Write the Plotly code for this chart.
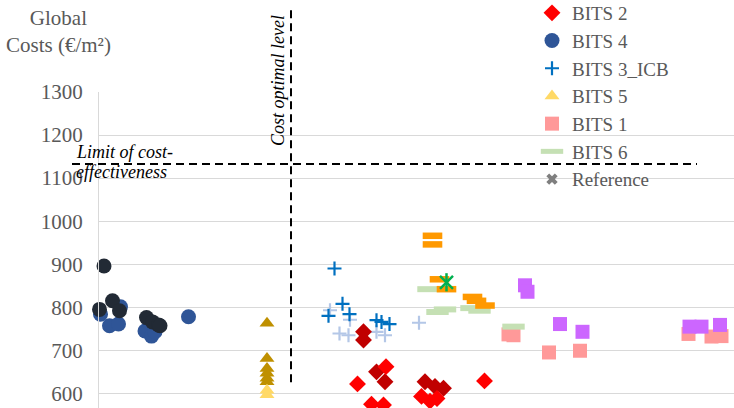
import plotly.graph_objects as go

# ---- data (x: arbitrary energy-performance scale, y: global costs €/m²) ----
bits4_x = [0.3, 4.3, 2.1, 3.9, 9.2, 10.5, 11.2, 17.9]
bits4_y = [784, 801, 757, 761, 745, 733, 743, 778]
bits4b_x = [1.0, 0.1, 2.7, 4.1, 9.5, 10.7, 11.9, 12.2]
bits4b_y = [896, 795, 815, 792, 776, 766, 759, 757]

bits5_x = [33.6, 33.6]
bits5_y = [607, 597]
bits5b_x = [33.6, 33.6, 33.6, 33.6, 33.6, 33.6]
bits5b_y = [763, 681, 658, 647, 635, 627]

bits3_x = [47.1, 48.7, 45.9, 50.1, 55.5, 56.5, 58.1]
bits3_y = [890, 808, 780, 784, 770, 766, 761]
bits3b_x = [46.2, 50.2, 48.1, 49.9, 55.5, 57.2, 64.0]
bits3b_y = [793, 771, 739, 735, 743, 735, 764]

bits2_x = [51.7, 57.4, 54.5, 56.9, 64.5, 66.2, 67.6, 77.1]
bits2_y = [622, 662, 575, 573, 593, 582, 588, 629]
bits2b_x = [52.9, 52.9, 55.5, 57.2, 65.2, 67.2, 68.9]
bits2b_y = [743, 724, 650, 627, 627, 616, 612]

bits1_x = [81.9, 82.9, 90.0, 96.2, 117.9, 122.5, 124.5]
bits1_y = [737, 735, 695, 699, 738, 732, 733]
bits1b_x = [85.2, 85.7, 92.2, 96.7, 118.1, 120.5, 124.2]
bits1b_y = [851, 836, 761, 743, 755, 755, 759]

bits6_x = [65.9, 69.2, 67.7, 74.5, 76.1, 82.9]
bits6_y = [842, 795, 789, 798, 792, 755]
bits6b_x = [66.7, 66.7, 68.1, 69.5, 74.7, 75.5, 77.2]
bits6b_y = [966, 946, 865, 842, 824, 815, 804]

ref_var_x = [69.5]
ref_var_y = [858]
ref_x = [None]
ref_y = [None]

limit_cost = 1133          # limit of cost-effectiveness
cost_opt_x = 38.4          # cost optimal level
cost_opt_y_low = 626

yticks = [600, 700, 800, 900, 1000, 1100, 1200, 1300]
y_range = [566, 1300]
x_range = [0, 127]

# ---- geometry (window pixels) ----
WIN_W, WIN_H = 734, 408
L, R, T, B = 99, 734, 92, 408
PW, PH = R - L, B - T
def px(x):
    return (x - L) / PW
def py(y):
    return (B - y) / PH
def vy(v):
    return (v - y_range[0]) / (y_range[1] - y_range[0])

SERIF = "Liberation Serif"
GREY = "#595959"

fig = go.Figure()

def add(x, y, name, symbol, color, size, show, rank, line_w=0, line_c=None):
    marker = dict(symbol=symbol, color=color, size=size,
                  line=dict(width=line_w, color=line_c if line_c else color))
    fig.add_trace(go.Scatter(x=x, y=y, mode="markers", name=name, marker=marker,
                             showlegend=show, legendrank=rank, cliponaxis=False,
                             hoverinfo="x+y"))

add(bits4_x, bits4_y, "BITS 4", "circle", "#2F5597", 15, True, 2)
add(bits4b_x, bits4b_y, "BITS 4 var", "circle", "#222A35", 15, False, 20)
add(bits5b_x, bits5b_y, "BITS 5 var", "triangle-up", "#BF9000", 13, False, 20)
add(bits5_x, bits5_y, "BITS 5", "triangle-up", "#FFD966", 13, True, 4)
add(bits3b_x, bits3b_y, "BITS 3_ICB var", "cross-thin-open", "#B4C7E7", 10, False, 20, 2.2, "#B4C7E7")
add(bits3_x, bits3_y, "BITS 3_ICB", "cross-thin-open", "#0070C0", 10, True, 3, 2.2, "#0070C0")
add(bits2b_x, bits2b_y, "BITS 2 var", "diamond", "#C00000", 13, False, 20)
add(bits2_x, bits2_y, "BITS 2", "diamond", "#FF0000", 13, True, 1)
add(bits1_x, bits1_y, "BITS 1", "square", "#FF9999", 14, True, 5)
add(bits1b_x, bits1b_y, "BITS 1 var", "square", "#CC66FF", 14, False, 20)
add(bits6_x, bits6_y, "BITS 6", "line-ew-open", "#C5E0B4", 16, True, 6, 6, "#C5E0B4")
add(bits6b_x, bits6b_y, "BITS 6 var", "line-ew-open", "#FF9900", 14, False, 20, 6.5, "#FF9900")
add(ref_var_x, ref_var_y, "Reference var", "x-thin-open", "#00B050", 13, False, 20, 2.5, "#00B050")
add(ref_var_x, ref_var_y, "Reference var2", "line-ns-open", "#00B050", 13, False, 20, 2.5, "#00B050")
add(ref_x, ref_y, "Reference", "x", "#7F7F7F", 10, True, 7)

# reference lines
fig.add_shape(type="line", xref="paper", yref="y", x0=px(72), x1=px(697),
              y0=limit_cost, y1=limit_cost,
              line=dict(color="black", width=2, dash="8px,5px"))
fig.add_shape(type="line", xref="x", yref="paper", x0=cost_opt_x, x1=cost_opt_x,
              y0=vy(cost_opt_y_low), y1=py(9),
              line=dict(color="black", width=2, dash="8px,5px"))

# texts
fig.add_annotation(xref="paper", yref="paper", x=px(58), y=py(31),
                   text="Global<br>Costs (€/m²)", showarrow=False, align="center",
                   xanchor="center", yanchor="middle",
                   font=dict(family=SERIF, size=21, color=GREY))
fig.add_annotation(xref="paper", yref="paper", x=px(74), y=py(152),
                   text="<i>Limit of cost-</i>", showarrow=False,
                   xanchor="left", yanchor="middle",
                   font=dict(family=SERIF, size=18, color="black"))
fig.add_annotation(xref="paper", yref="paper", x=px(74), y=py(172),
                   text="<i>effectiveness</i>", showarrow=False,
                   xanchor="left", yanchor="middle",
                   font=dict(family=SERIF, size=18, color="black"))
fig.add_annotation(xref="paper", yref="paper", x=px(278), y=py(81),
                   text="<i>Cost optimal level</i>", showarrow=False, textangle=-90,
                   xanchor="center", yanchor="middle",
                   font=dict(family=SERIF, size=18, color="black"))

fig.update_layout(
    width=WIN_W, height=WIN_H,
    margin=dict(l=L, r=(WIN_W - R), t=T, b=(WIN_H - B), pad=0, autoexpand=False),
    paper_bgcolor="white", plot_bgcolor="white",
    font=dict(family=SERIF, size=20, color=GREY),
    hovermode=False,
    showlegend=True,
    legend=dict(x=px(532), y=py(-6), xanchor="left", yanchor="top",
                bgcolor="rgba(0,0,0,0)", borderwidth=0,
                font=dict(family=SERIF, size=19, color=GREY),
                itemwidth=30, tracegroupgap=0),
    xaxis=dict(range=x_range, showgrid=False, zeroline=False, showline=False,
               showticklabels=False, ticks=""),
    yaxis=dict(range=y_range, tickvals=yticks, showgrid=True, gridcolor="#D9D9D9",
               gridwidth=1.3, zeroline=False, showline=True, linecolor="#D9D9D9",
               linewidth=1.3, ticks="", ticklabelstandoff=11,
               tickfont=dict(family=SERIF, size=21, color=GREY)),
)

fig.write_html("out.html", config={"displayModeBar": False},
               post_script="document.body.style.margin='0';")
